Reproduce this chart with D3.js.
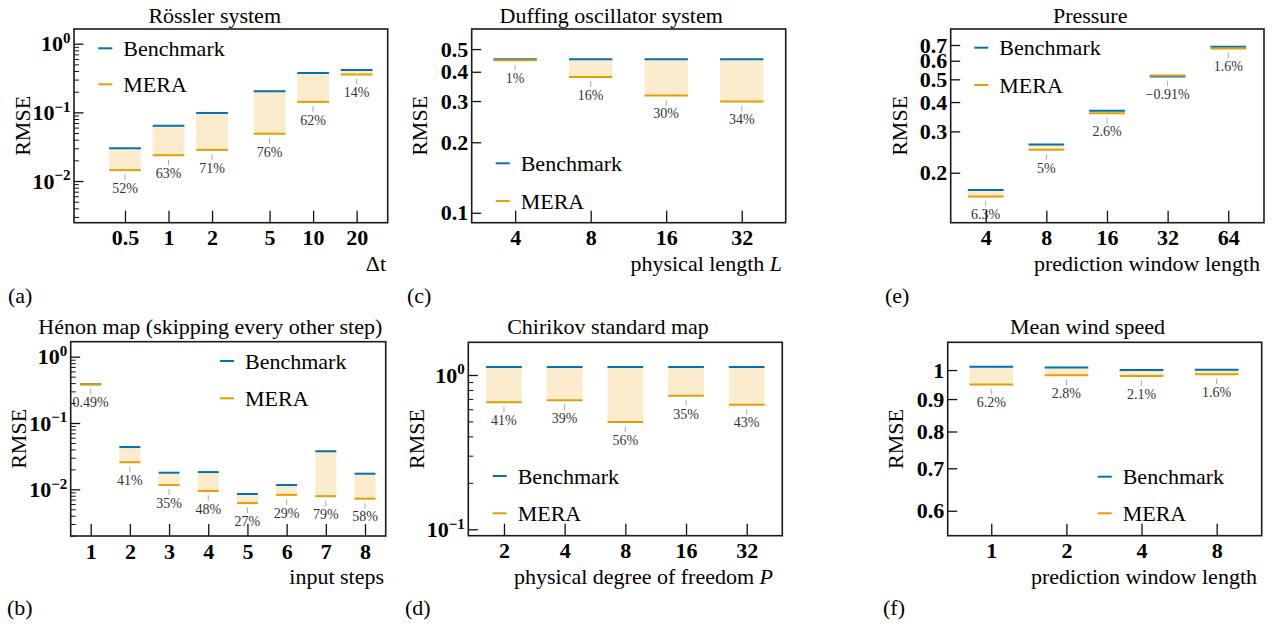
<!DOCTYPE html>
<html>
<head>
<meta charset="utf-8">
<script src="https://cdn.jsdelivr.net/npm/d3@7"></script>
<style>
  html, body { margin: 0; padding: 0; background: #fff; }
</style>
</head>
<body>
<svg id="fig" width="1275" height="625"></svg>
<script>
// ---------------- data ----------------
// (a) Rössler system
const rosslerDt        = [0.5, 1, 2, 5, 10, 20];
const rosslerDtText    = ["0.5", "1", "2", "5", "10", "20"];
const rosslerBenchmark = [0.030, 0.064, 0.098, 0.203, 0.374, 0.414];
const rosslerMera      = [0.0144, 0.0237, 0.0284, 0.0487, 0.142, 0.356];
const rosslerGain      = ["52%", "63%", "71%", "76%", "62%", "14%"];

// (b) Hénon map
const henonSteps     = [1, 2, 3, 4, 5, 6, 7, 8];
const henonStepsText = ["1", "2", "3", "4", "5", "6", "7", "8"];
const henonBenchmark = [0.3837, 0.0434, 0.0178, 0.0182, 0.0085, 0.0116, 0.0375, 0.0172];
const henonMera      = [0.3818, 0.0256, 0.0116, 0.00946, 0.0062, 0.00824, 0.00788, 0.00722];
const henonGain      = ["0.49%", "41%", "35%", "48%", "27%", "29%", "79%", "58%"];

// (c) Duffing oscillator
const duffingLength     = [4, 8, 16, 32];
const duffingLengthText = ["4", "8", "16", "32"];
const duffingBenchmark  = [0.452, 0.452, 0.452, 0.452];
const duffingMera       = [0.4475, 0.3797, 0.3164, 0.2983];
const duffingGain       = ["1%", "16%", "30%", "34%"];

// (d) Chirikov standard map
const chirikovP         = [2, 4, 8, 16, 32];
const chirikovPText     = ["2", "4", "8", "16", "32"];
const chirikovBenchmark = [1.127, 1.127, 1.127, 1.127, 1.127];
const chirikovMera      = [0.665, 0.687, 0.496, 0.733, 0.642];
const chirikovGain      = ["41%", "39%", "56%", "35%", "43%"];

// (e) Pressure
const pressureWindow     = [4, 8, 16, 32, 64];
const pressureWindowText = ["4", "8", "16", "32", "64"];
const pressureBenchmark  = [0.169, 0.2636, 0.3677, 0.5145, 0.688];
const pressureMera       = [0.1584, 0.2504, 0.3581, 0.5192, 0.677];
const pressureGain       = ["6.3%", "5%", "2.6%", "\u22120.91%", "1.6%"];

// (f) Mean wind speed
const windWindow     = [1, 2, 4, 8];
const windWindowText = ["1", "2", "4", "8"];
const windBenchmark  = [1.012, 1.0097, 1.0, 1.001];
const windMera       = [0.949, 0.981, 0.979, 0.985];
const windGain       = ["6.2%", "2.8%", "2.1%", "1.6%"];

// y tick labels
const decadeTicks     = [0.01, 0.1, 1];
const decadeTickText  = [["10", "\u22122"], ["10", "\u22121"], ["10", "0"]];
const chirikovTicks   = [0.1, 1];
const chirikovTickTxt = [["10", "\u22121"], ["10", "0"]];
const duffingTicks    = [0.1, 0.2, 0.3, 0.4, 0.5];
const pressureTicks   = [0.2, 0.3, 0.4, 0.5, 0.6, 0.7];
const windTicks       = [0.6, 0.7, 0.8, 0.9, 1];

// ---------------- styles ----------------
const BLUE = "#0072B2";
const ORANGE = "#E69F00";
const FONT = 22;
const SERIF = '"Liberation Serif"';

const panels = [
  { title: "Rössler system", titleAt: [214.7, 15], letter: "(a)", letterAt: [8, 295],
    box: [74, 29, 387.7, 222.7],
    x: d3.scaleLog().domain([0.222, 32.8]), xv: rosslerDt, xt: rosslerDtText,
    xLabel: [["\u0394t", false]], xLabelAt: [386, 263],
    y: d3.scaleLog().domain([0.002472, 1.637]), yTicks: decadeTicks, yText: decadeTickText, yMinor: true,
    bench: rosslerBenchmark, mera: rosslerMera, gain: rosslerGain, barW: 31.7,
    legend: [98.3, 48.3, 84.3], ylabelX: 22 },
  { title: "Hénon map (skipping every other step)", titleAt: [210.3, 326.7], letter: "(b)", letterAt: [7, 607],
    box: [70.7, 341.7, 385.7, 536],
    x: d3.scaleLinear().domain([0.49, 8.528]), xv: henonSteps, xt: henonStepsText,
    xLabel: [["input steps", false]], xLabelAt: [384, 576],
    y: d3.scaleLog().domain([0.001977, 1.683]), yTicks: decadeTicks, yText: decadeTickText, yMinor: true,
    bench: henonBenchmark, mera: henonMera, gain: henonGain, barW: 21,
    legend: [220, 361, 398.3], ylabelX: 18.3 },
  { title: "Duffing oscillator system", titleAt: [611.2, 15], letter: "(c)", letterAt: [407, 295],
    box: [471.7, 29, 785.7, 222.7],
    x: d3.scaleLog().base(2).domain([2.685, 47.9]), xv: duffingLength, xt: duffingLengthText,
    xLabel: [["physical length ", false], ["L", true]], xLabelAt: [782, 263],
    y: d3.scaleLog().domain([0.0907, 0.609]), yTicks: duffingTicks, yText: null, yMinor: false,
    bench: duffingBenchmark, mera: duffingMera, gain: duffingGain, barW: 43.3,
    legend: [495.7, 163.3, 201], ylabelX: 419 },
  { title: "Chirikov standard map", titleAt: [608, 326.7], letter: "(d)", letterAt: [405, 607],
    box: [468.3, 342.3, 782.3, 535.7],
    x: d3.scaleLog().base(2).domain([1.331, 48.05]), xv: chirikovP, xt: chirikovPText,
    xLabel: [["physical degree of freedom ", false], ["P", true]], xLabelAt: [773, 576],
    y: d3.scaleLog().domain([0.0909, 1.629]), yTicks: chirikovTicks, yText: chirikovTickTxt, yMinor: true,
    bench: chirikovBenchmark, mera: chirikovMera, gain: chirikovGain, barW: 35.7,
    legend: [492.7, 476, 513.3], ylabelX: 416.7 },
  { title: "Pressure", titleAt: [1090.2, 15], letter: "(e)", letterAt: [885, 295],
    box: [950.7, 29, 1264, 222.7],
    x: d3.scaleLog().base(2).domain([2.681, 96.3]), xv: pressureWindow, xt: pressureWindowText,
    xLabel: [["prediction window length", false]], xLabelAt: [1260, 263],
    y: d3.scaleLog().domain([0.1225, 0.819]), yTicks: pressureTicks, yText: null, yMinor: false,
    bench: pressureBenchmark, mera: pressureMera, gain: pressureGain, barW: 35.7,
    legend: [974.3, 47.7, 85], ylabelX: 899 },
  { title: "Mean wind speed", titleAt: [1087.5, 326.7], letter: "(f)", letterAt: [883, 607],
    box: [947.7, 342.3, 1261.7, 535.7],
    x: d3.scaleLog().base(2).domain([0.669, 12.12]), xv: windWindow, xt: windWindowText,
    xLabel: [["prediction window length", false]], xLabelAt: [1257, 576],
    y: d3.scaleLog().domain([0.548, 1.106]), yTicks: windTicks, yText: null, yMinor: false,
    bench: windBenchmark, mera: windMera, gain: windGain, barW: 43.7,
    legend: [1097.7, 476.7, 513.3], ylabelX: 895.5 }
];

const svg = d3.select("#fig");

panels.forEach(p => {
  const [L, T, R, B] = p.box;
  const x = p.x.copy().range([L, R]);
  const y = p.y.copy().range([B, T]);
  const g = svg.append("g");

  // title and panel letter
  g.append("text").attr("x", p.titleAt[0]).attr("y", p.titleAt[1])
    .attr("text-anchor", "middle").attr("dominant-baseline", "central")
    .attr("font-size", FONT).attr("fill", "#000").text(p.title);
  g.append("text").attr("x", p.letterAt[0]).attr("y", p.letterAt[1])
    .attr("dominant-baseline", "central")
    .attr("font-size", FONT).attr("fill", "#000").text(p.letter);

  // shaded improvement band between the two models
  const bars = g.append("g");
  p.xv.forEach((v, i) => {
    const cx = x(v), w = p.barW;
    const yb = y(p.bench[i]), ym = y(p.mera[i]);
    bars.append("rect")
      .attr("x", cx - w / 2).attr("width", w)
      .attr("y", Math.min(yb, ym)).attr("height", Math.abs(ym - yb))
      .attr("fill", ORANGE).attr("fill-opacity", 0.2);
    bars.append("line")
      .attr("x1", cx - w / 2).attr("x2", cx + w / 2).attr("y1", yb).attr("y2", yb)
      .attr("stroke", BLUE).attr("stroke-width", 2);
    bars.append("line")
      .attr("x1", cx - w / 2).attr("x2", cx + w / 2).attr("y1", ym).attr("y2", ym)
      .attr("stroke", ORANGE).attr("stroke-width", 2);
    // relative improvement annotation
    const yl = Math.max(yb, ym);
    bars.append("line")
      .attr("x1", cx).attr("x2", cx).attr("y1", yl + 4.3).attr("y2", yl + 10)
      .attr("stroke", "#aaa").attr("stroke-width", 1);
    bars.append("text")
      .attr("x", cx).attr("y", yl + 18.3)
      .attr("text-anchor", "middle").attr("dominant-baseline", "central")
      .attr("font-size", 14).attr("fill", "#333").text(p.gain[i]);
  });

  // x axis (ticks point inward)
  const xAxis = d3.axisBottom(x).tickValues(p.xv)
    .tickFormat((d, i) => p.xt[i]).tickSize(-12).tickPadding(7);
  const gx = g.append("g").attr("transform", `translate(0,${B})`).call(xAxis);
  gx.select(".domain").remove();
  gx.selectAll(".tick line").attr("stroke", "#111").attr("stroke-width", 1.3);
  gx.selectAll(".tick text").attr("font-size", FONT).attr("font-weight", "bold").attr("fill", "#000");

  // y axis minor ticks
  if (p.yMinor) {
    const minor = y.ticks().filter(v => Math.abs(Math.log10(v) - Math.round(Math.log10(v))) > 1e-6);
    const gm = g.append("g").attr("transform", `translate(${L},0)`)
      .call(d3.axisLeft(y).tickValues(minor).tickFormat("").tickSize(-5));
    gm.select(".domain").remove();
    gm.selectAll(".tick line").attr("stroke", "#111").attr("stroke-width", 1);
  }

  // y axis major ticks
  const yAxis = d3.axisLeft(y).tickValues(p.yTicks).tickSize(-9.5).tickPadding(3.5)
    .tickFormat(d => p.yText ? "" : d3.format("~g")(d));
  const gy = g.append("g").attr("transform", `translate(${L},0)`).call(yAxis);
  gy.select(".domain").remove();
  gy.selectAll(".tick line").attr("stroke", "#111").attr("stroke-width", 1.3);
  gy.selectAll(".tick text").attr("font-size", FONT).attr("font-weight", "bold").attr("fill", "#000");
  if (p.yText) {
    gy.selectAll(".tick text").each(function (d, i) {
      const t = d3.select(this);
      t.text(null);
      t.append("tspan").text(p.yText[i][0]);
      t.append("tspan").attr("font-size", 15).attr("dy", "-0.55em").text(p.yText[i][1]);
    });
  }

  // axis labels
  g.append("text")
    .attr("transform", `translate(${p.ylabelX},${(T + B) / 2}) rotate(-90)`)
    .attr("text-anchor", "middle").attr("dominant-baseline", "central")
    .attr("font-size", FONT).attr("fill", "#000").text("RMSE");
  const xl = g.append("text").attr("x", p.xLabelAt[0]).attr("y", p.xLabelAt[1])
    .attr("text-anchor", "end").attr("dominant-baseline", "central")
    .attr("font-size", FONT).attr("fill", "#000");
  p.xLabel.forEach(([s, it]) => {
    xl.append("tspan").attr("font-style", it ? "italic" : "normal").text(s);
  });

  // legend
  const [lx, ly1, ly2] = p.legend;
  [[BLUE, "Benchmark", ly1], [ORANGE, "MERA", ly2]].forEach(([c, s, ly]) => {
    g.append("line").attr("x1", lx).attr("x2", lx + 14).attr("y1", ly).attr("y2", ly)
      .attr("stroke", c).attr("stroke-width", 2);
    g.append("text").attr("x", lx + 25).attr("y", ly)
      .attr("dominant-baseline", "central").attr("font-size", FONT).attr("fill", "#000").text(s);
  });

  // frame
  g.append("rect").attr("x", L).attr("y", T).attr("width", R - L).attr("height", B - T)
    .attr("fill", "none").attr("stroke", "#1a1a1a").attr("stroke-width", 1.6);
});

// serif typeface for every label
svg.selectAll("text").style("font-family", SERIF);
</script>
</body>
</html>
